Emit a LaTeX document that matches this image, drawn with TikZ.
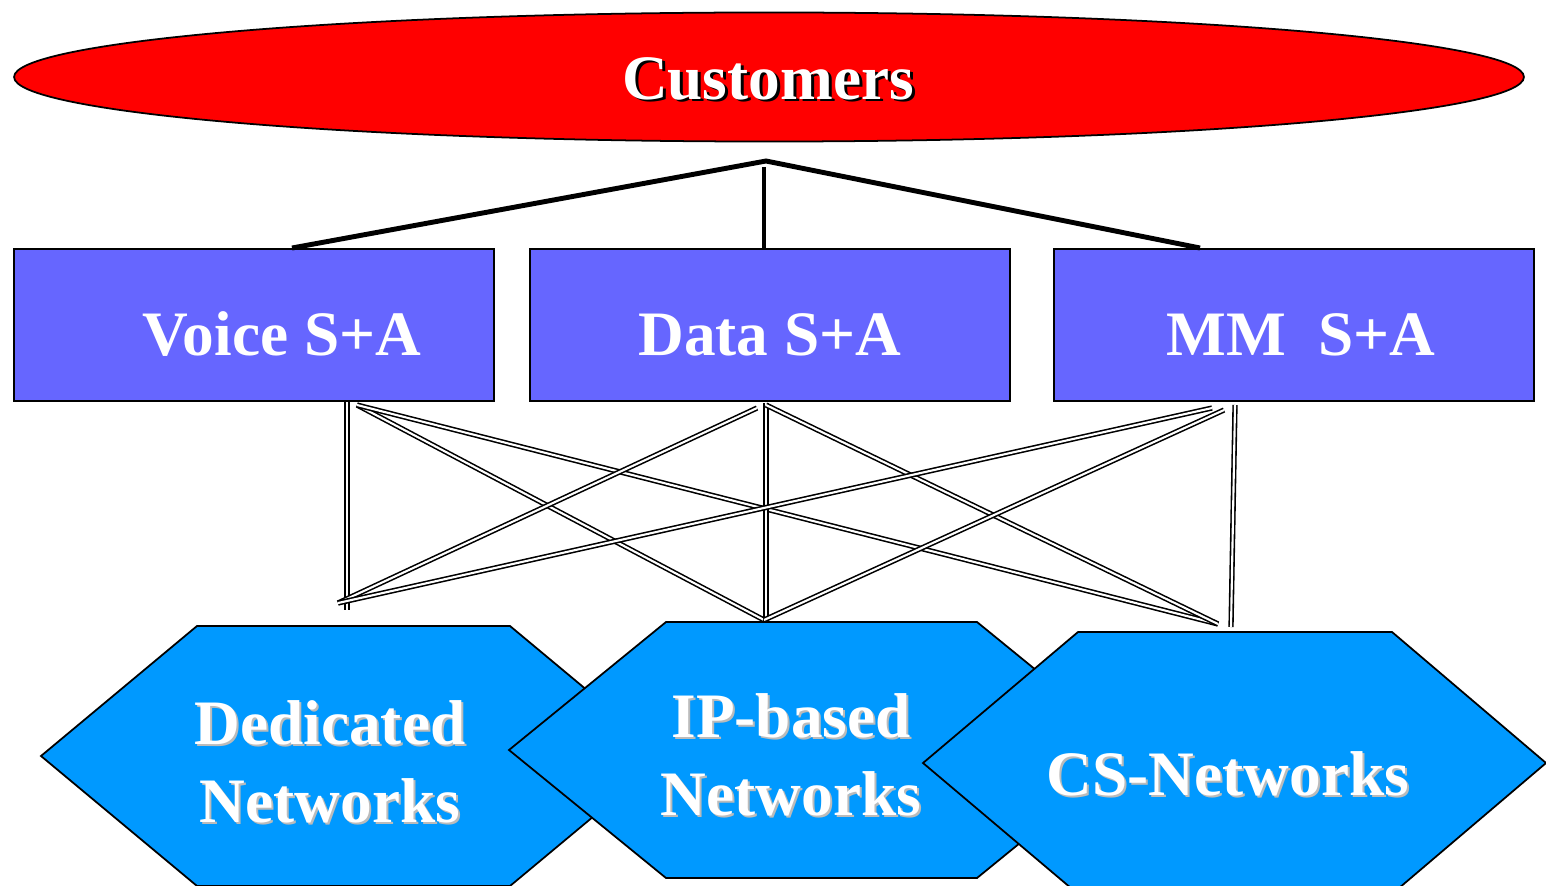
\documentclass[tikz,border=0pt]{standalone}
\usepackage{fontspec}
\setmainfont{Liberation Serif}
\usetikzlibrary{shapes.geometric}
\definecolor{custred}{HTML}{FF0000}
\definecolor{boxblue}{HTML}{6666FF}
\definecolor{netblue}{HTML}{0099FF}
\definecolor{shadowgray}{HTML}{BBBBBB}
\begin{document}
\begin{tikzpicture}[x=0.01cm,y=-0.01cm,
  lbl/.style={font=\fontsize{18}{21.9}\selectfont\bfseries, text=white, inner sep=0pt, align=center},
  shd/.style={font=\fontsize{18}{21.9}\selectfont\bfseries, inner sep=0pt, align=center},
  sabox/.style={draw=black, line width=0.45pt, fill=boxblue, minimum width=4.8cm, minimum height=1.52cm, anchor=north west, inner sep=0pt},
  hexshape/.style={draw=black, line width=0.5pt, fill=netblue, line join=miter},
  thickline/.style={draw=black, line width=1.4pt},
  dbl/.style={draw=black, double=white, line width=0.45pt, double distance=0.6pt}]
\useasboundingbox (0,0) rectangle (1546,885);
\clip (0,0) rectangle (1546,885);
% customers ellipse
\node[ellipse, draw=black, line width=0.5pt, fill=custred, minimum width=15.09cm, minimum height=1.29cm, inner sep=0pt] (cust) at (769,77) {};
\node[shd, text=black, anchor=base] (custsh) at (771,102) {Customers};
\node[lbl, anchor=base] (custtxt) at (768,100) {Customers};
% service boxes
\node[sabox] (voice) at (13,248) {};
\node[sabox] (data) at (529,248) {};
\node[sabox] (mm) at (1053,248) {};
\node[lbl, anchor=base] (voicetxt) at (282,355) {Voice S+A};
\node[lbl, anchor=base] (datatxt) at (770,355) {Data S+A};
\node[lbl, anchor=base] (mmtxt) at (1301,355) {MM\ \ S+A};
% connectors customers -> services
\coordinate (hub) at (766,161);
\coordinate (hubv) at (764,167);
\coordinate (voicetop) at (292,248);
\coordinate (datatop) at (764,248);
\coordinate (mmtop) at (1200,248);
\draw[thickline] (voicetop) -- (hub) -- (mmtop);
\draw[thickline] (hubv) -- (datatop);
% network end points
\coordinate (dedA) at (347,610);
\coordinate (dedB) at (338,603);
\coordinate (ipA) at (764,620);
\coordinate (ipB) at (766,621);
\coordinate (csA) at (1218,624);
\coordinate (csB) at (1231,627);
% service start points
\coordinate (voV) at (347,402);
\coordinate (voD) at (357,405);
\coordinate (daL) at (757,408);
\coordinate (daV) at (766,403);
\coordinate (daR) at (766,405);
\coordinate (mmL) at (1212,408);
\coordinate (mmM) at (1224,410);
\coordinate (mmV) at (1235,405);
\draw[dbl] (voV) -- (dedA);
\draw[dbl] (voD) -- (ipA);
\draw[dbl] (voD) -- (csA);
\draw[dbl] (daL) -- (dedB);
\draw[dbl] (daV) -- (ipB);
\draw[dbl] (daR) -- (csA);
\draw[dbl] (mmL) -- (dedB);
\draw[dbl] (mmM) -- (ipA);
\draw[dbl] (mmV) -- (csB);
% networks
\draw[hexshape] (41,756) -- (197,626) -- (510,626) -- (666,756) -- (510,886) -- (197,886) -- cycle;
\node[shd, text=shadowgray, anchor=base] (dedsh) at (332,824) {Dedicated\\Networks};
\node[lbl, anchor=base] (dedtxt) at (330,822) {Dedicated\\Networks};
\draw[hexshape] (509,750) -- (666,622) -- (977,622) -- (1134,750) -- (977,878) -- (666,878) -- cycle;
\node[shd, text=shadowgray, anchor=base] (ipsh) at (793,817) {IP-based\\Networks};
\node[lbl, anchor=base] (iptxt) at (791,815) {IP-based\\Networks};
\draw[hexshape] (923,763) -- (1078,632) -- (1392,632) -- (1546,763) -- (1392,894) -- (1078,894) -- cycle;
\node[shd, text=shadowgray, anchor=base] (cssh) at (1230,797) {CS-Networks};
\node[lbl, anchor=base] (cstxt) at (1228,795) {CS-Networks};
\end{tikzpicture}
\end{document}
